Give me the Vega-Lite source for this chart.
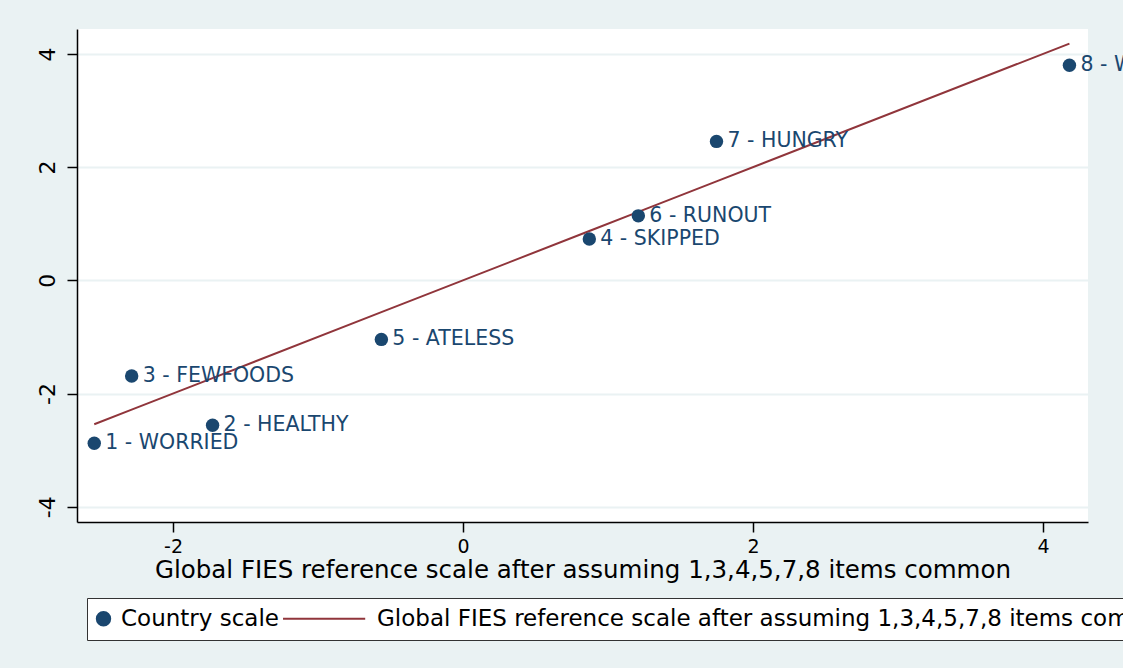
{
  "$schema": "https://vega.github.io/schema/vega-lite/v6.json",
  "autosize": "none",
  "width": 1011,
  "height": 493,
  "padding": {"left": 77, "top": 29, "right": 35, "bottom": 146},
  "background": "#EAF2F3",
  "config": {
    "view": {"stroke": null, "fill": "white"},
    "font": "DejaVu Sans",
    "axis": {
      "domainColor": "black", "domainWidth": 1.5,
      "tickColor": "black", "tickWidth": 1.5, "tickSize": 10,
      "labelColor": "black", "labelFont": "DejaVu Sans", "labelFontSize": 19,
      "labelExpr": "'' + datum.value",
      "titleColor": "black", "titleFont": "DejaVu Sans", "titleFontWeight": "normal", "titleFontSize": 24.5
    },
    "legend": {
      "title": null, "orient": "none", "direction": "horizontal",
      "legendX": 10, "legendY": 569,
      "fillColor": "white", "strokeColor": "#333333", "padding": 9,
      "labelFontSize": 23, "labelColor": "black", "labelLimit": 1500,
      "labelOffset": 6, "columnPadding": 0, "symbolSize": 180, "symbolOffset": -4
    }
  },
  "data": {
    "values": [
      {"item": "1 - WORRIED", "global": -2.543, "country": -2.88},
      {"item": "2 - HEALTHY", "global": -1.727, "country": -2.56},
      {"item": "3 - FEWFOODS", "global": -2.285, "country": -1.69},
      {"item": "4 - SKIPPED", "global": 0.871, "country": 0.729},
      {"item": "5 - ATELESS", "global": -0.563, "country": -1.044},
      {"item": "6 - RUNOUT", "global": 1.209, "country": 1.139},
      {"item": "7 - HUNGRY", "global": 1.748, "country": 2.454},
      {"item": "8 - WHOLEDAY", "global": 4.182, "country": 3.80}
    ]
  },
  "encoding": {
    "x": {
      "field": "global", "type": "quantitative",
      "scale": {"domain": [-2.662, 4.31], "nice": false, "zero": false},
      "axis": {
        "title": "Global FIES reference scale after assuming 1,3,4,5,7,8 items common",
        "values": [-2, 0, 2, 4], "grid": false, "labelPadding": 5, "titlePadding": 2
      }
    }
  },
  "layer": [
    {
      "mark": {"type": "line", "strokeWidth": 2},
      "encoding": {
        "y": {"field": "global", "type": "quantitative"},
        "color": {
          "datum": "Global FIES reference scale after assuming 1,3,4,5,7,8 items common", "type": "nominal",
          "legend": {
            "encode": {
              "symbols": {
                "update": {
                  "shape": {"signal": "datum.value === 'Country scale' ? 'circle' : 'M -11.4 0 L 0.85 0'"},
                  "fill": {"signal": "datum.value === 'Country scale' ? '#1a476f' : 'transparent'"},
                  "stroke": {"signal": "datum.value === 'Country scale' ? 'transparent' : '#90353b'"},
                  "strokeWidth": {"value": 2},
                  "opacity": {"value": 1}
                }
              }
            }
          }
        }
      }
    },
    {
      "mark": {"type": "point", "filled": true, "opacity": 1, "size": 180},
      "encoding": {
        "y": {
          "field": "country", "type": "quantitative",
          "scale": {"domain": [-4.27, 4.44], "nice": false, "zero": false},
          "axis": {
            "title": null, "values": [-4, -2, 0, 2, 4], "grid": true,
            "gridColor": "#EAF2F3", "gridWidth": 2, "labelFontSize": 22,
            "labelAngle": 270, "labelAlign": "center", "labelBaseline": "bottom", "labelPadding": 8
          }
        },
        "color": {
          "datum": "Country scale", "type": "nominal",
          "scale": {
            "domain": ["Country scale", "Global FIES reference scale after assuming 1,3,4,5,7,8 items common"],
            "range": ["#1a476f", "#90353b"]
          },
          "legend": {
            "encode": {
              "symbols": {
                "update": {
                  "shape": {"signal": "datum.value === 'Country scale' ? 'circle' : 'M -11.4 0 L 0.85 0'"},
                  "fill": {"signal": "datum.value === 'Country scale' ? '#1a476f' : 'transparent'"},
                  "stroke": {"signal": "datum.value === 'Country scale' ? 'transparent' : '#90353b'"},
                  "strokeWidth": {"value": 2},
                  "opacity": {"value": 1}
                }
              }
            }
          }
        }
      }
    },
    {
      "mark": {"type": "text", "align": "left", "baseline": "middle", "dx": 11, "fontSize": 20.5, "color": "#1a476f"},
      "encoding": {
        "y": {"field": "country", "type": "quantitative"},
        "text": {"field": "item"}
      }
    }
  ]
}
